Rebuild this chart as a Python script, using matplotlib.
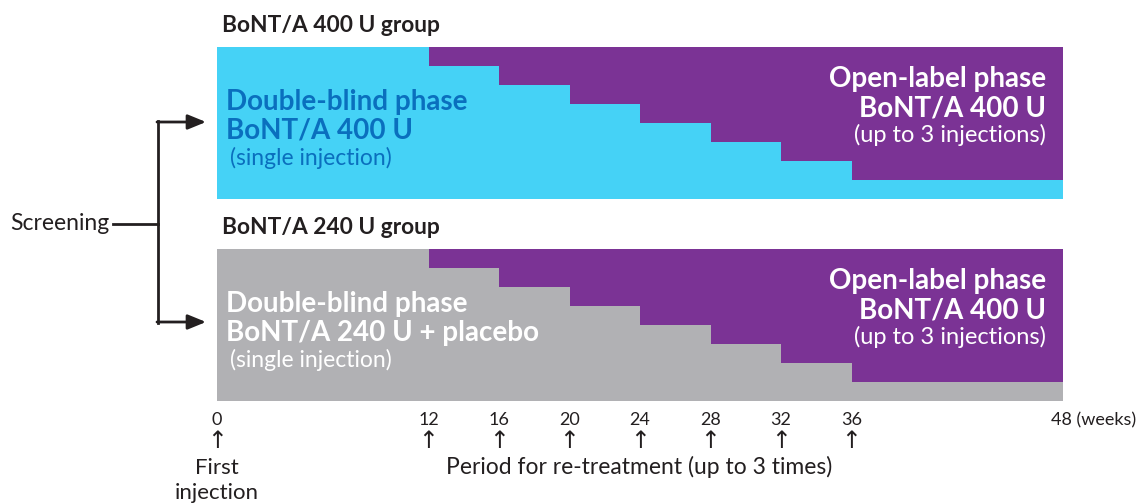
import matplotlib
matplotlib.use("Agg")
import matplotlib.pyplot as plt
from matplotlib.patches import Rectangle

# study timeline (weeks)
first_week = 0
end_week = 48
retreat_weeks = [12, 16, 20, 24, 28, 32, 36]
tick_weeks = [0, 12, 16, 20, 24, 28, 32, 36]
groups = ["BoNT/A 400 U group", "BoNT/A 240 U group"]
db_doses = ["BoNT/A 400 U", "BoNT/A 240 U + placebo"]
ol_dose = "BoNT/A 400 U"

CYAN = "#45D2F6"
PURPLE = "#7B3395"
GREY = "#B1B1B4"
BLUE = "#0A6FBE"
INK = "#231F20"

plt.rcParams["font.family"] = ["Lato", "DejaVu Sans"]

fig = plt.figure(figsize=(11.4, 5.04), dpi=100)
ax = fig.add_axes([0, 0, 1, 1])
px_per_week = 17.625
x0 = 217
ax.set_xlim(-x0 / px_per_week, (1140 - x0) / px_per_week)
ax.set_ylim(504, 0)  # vertical in pixels
ax.axis("off")

sx = lambda p: (p - x0) / px_per_week  # pixel -> week

step_h = 19
box_tops = [47, 249]
box_h = 152
base_cols = [CYAN, GREY]

for g, top in enumerate(box_tops):
    ax.add_patch(Rectangle((first_week, top), end_week - first_week, box_h,
                           facecolor=base_cols[g], edgecolor="none"))
    bounds = retreat_weeks + [end_week]
    for i in range(len(retreat_weeks)):
        ax.add_patch(Rectangle((bounds[i], top), end_week - bounds[i], step_h * (i + 1),
                               facecolor=PURPLE, edgecolor="none"))
    ax.text(sx(222), top - 21, groups[g], fontsize=16.4,
            fontweight="bold", color=INK, va="center", ha="left")
    tc = BLUE if g == 0 else "white"
    ax.text(sx(226), top + 63, "Double-blind phase", fontsize=20,
            fontweight="bold", color=tc, va="baseline", ha="left")
    ax.text(sx(226), top + 92, db_doses[g], fontsize=20,
            fontweight="bold", color=tc, va="baseline", ha="left")
    ax.text(sx(230), top + 118, "(single injection)", fontsize=16.5,
            color=tc, va="baseline", ha="left")
    ax.text(sx(1046), top + 40, "Open-label phase", fontsize=20,
            fontweight="bold", color="white", va="baseline", ha="right")
    ax.text(sx(1046), top + 70, ol_dose, fontsize=20,
            fontweight="bold", color="white", va="baseline", ha="right")
    ax.text(sx(1046), top + 95, "(up to 3 injections)", fontsize=17,
            color="white", va="baseline", ha="right")

# screening branch
ax.text(sx(10), 224, "Screening", fontsize=16.5, va="center", ha="left", color=INK)
ax.plot([sx(113), sx(158)], [224, 224], color=INK, lw=2)
ax.plot([sx(158), sx(158)], [121, 323], color=INK, lw=2, solid_capstyle="projecting")
for yy in (122, 322):
    ax.annotate("", xy=(sx(206), yy), xytext=(sx(157), yy),
                arrowprops=dict(arrowstyle="-|>,head_length=1.1,head_width=0.45",
                                color=INK, lw=2, shrinkA=0, shrinkB=0))

# bottom week axis
for w in tick_weeks:
    ax.text(w, 420, str(w), fontsize=13, ha="center", va="center", color=INK)
    ax.text(w, 441, "\u2191", fontsize=17, family="DejaVu Sans", ha="center",
            va="center", color=INK)
ax.text(end_week - 12 / px_per_week, 420, f"{end_week} (weeks)", fontsize=13,
        ha="left", va="center", color=INK)
ax.text(first_week, 468, "First", fontsize=16, ha="center", va="center", color=INK)
ax.text(first_week, 493, "injection", fontsize=16, ha="center", va="center", color=INK)
ax.text(sx(639), 467, "Period for re-treatment (up to 3 times)", fontsize=16.5,
        ha="center", va="center", color=INK)

fig.savefig("out.png", dpi=100)
